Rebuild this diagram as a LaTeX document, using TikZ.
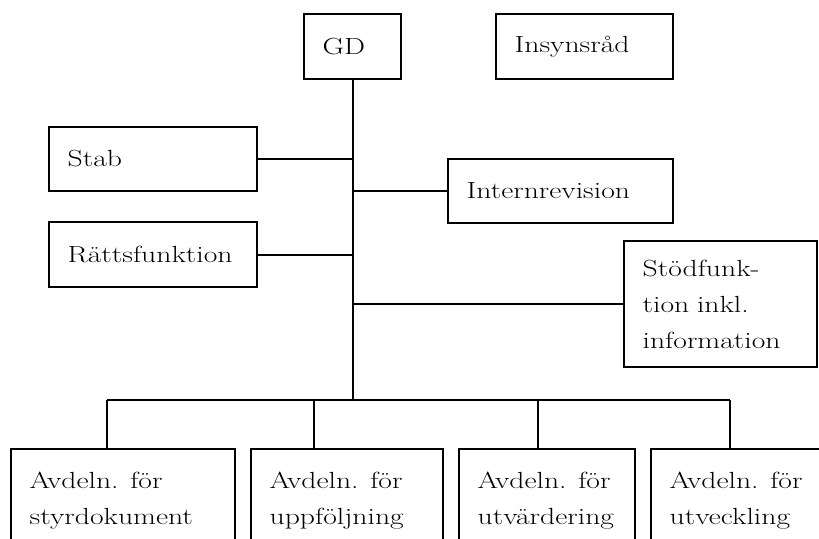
\documentclass[tikz,border=0pt]{standalone}
\usepackage{fontspec}
\setmainfont{Latin Modern Roman}[FakeStretch=1.27]
\begin{document}
\begin{tikzpicture}[x=0.75pt,y=-0.75pt,
  box/.style={draw, line width=1.5pt, anchor=north west, align=left, inner xsep=14pt,
    font=\fontsize{17.5}{27}\selectfont},
  link/.style={line width=1.5pt}]
\useasboundingbox (0,0) rectangle (819,539);
% top row
\node[box, text width=44.75pt, minimum height=48.75pt] (gd) at (303,13) {GD};
\node[box, text width=104.75pt, minimum height=48.75pt] (insyn) at (495,13) {Insynsråd};
% staff units
\node[box, text width=128pt, minimum height=48pt] (stab) at (48,126) {Stab};
\node[box, text width=128pt, minimum height=48.75pt] (ratt) at (48,221) {Rättsfunktion};
\node[box, text width=140.75pt, minimum height=48pt] (intern) at (447,158) {Internrevision};
\node[box, text width=116.75pt, minimum height=94.5pt] (stod) at (623,240) {Stödfunk-\\tion inkl.\\information};
% departments
\node[box, text width=140pt, minimum height=78pt] (avd1) at (10,448) {Avdeln. för\\styrdokument};
\node[box, text width=116pt, minimum height=78pt] (avd2) at (250,448) {Avdeln. för\\uppföljning};
\node[box, text width=104pt, minimum height=78pt] (avd3) at (458,448) {Avdeln. för\\utvärdering};
\node[box, text width=103.25pt, minimum height=78pt] (avd4) at (650,448) {Avdeln. för\\utveckling};
\coordinate (bus) at (352,400);
\coordinate (d1) at (107,400);
\coordinate (d2) at (314,400);
\coordinate (d3) at (538,400);
\coordinate (d4) at (730,400);
% trunk and branches
\draw[link] (gd.south) -- (gd.south |- bus);
\draw[link] (stab.east) -- (stab.east -| gd.south);
\draw[link] (ratt.east) -- (ratt.east -| gd.south);
\draw[link] (intern.west) -- (intern.west -| gd.south);
\draw[link] (stod.west) -- (stod.west -| gd.south);
\draw[link] (d1) -- (d4);
\draw[link] (d1) -- (d1 |- avd1.north);
\draw[link] (d2) -- (d2 |- avd2.north);
\draw[link] (d3) -- (d3 |- avd3.north);
\draw[link] (d4) -- (d4 |- avd4.north);
\end{tikzpicture}
\end{document}
